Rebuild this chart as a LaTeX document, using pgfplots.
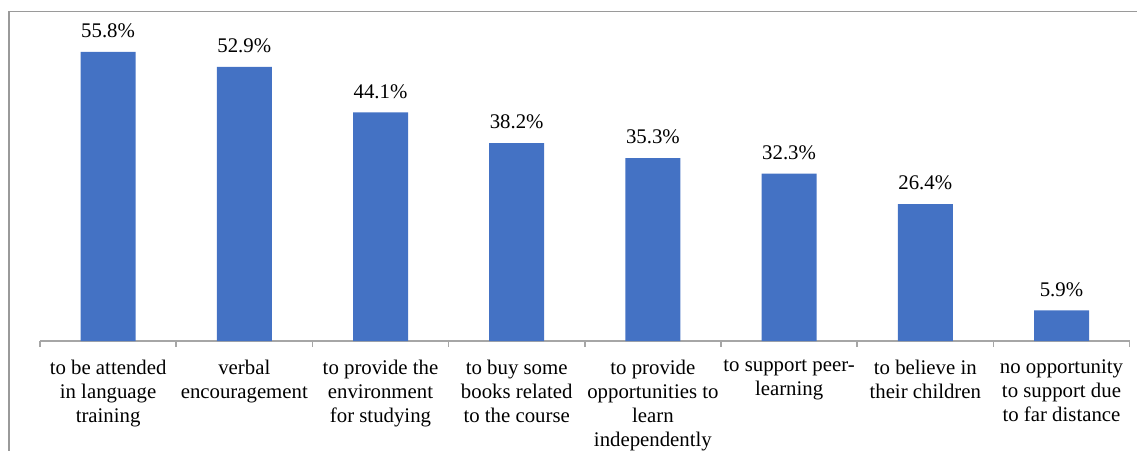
\documentclass[border=0pt]{standalone}
\usepackage{fontspec}
\setmainfont{Liberation Serif}
\usepackage{pgfplots}
\pgfplotsset{compat=1.18}
\definecolor{barblue}{HTML}{4472C4}
\definecolor{axgray}{HTML}{A6A6A6}
\definecolor{framegray}{HTML}{9A9A9A}
\begin{document}
\begin{tikzpicture}
\useasboundingbox (0,0) rectangle (568.5bp,-225.5bp);
\draw[color=framegray, line width=0.75bp] (4.5bp,-5.8bp) rectangle (700bp,-400bp);
\begin{axis}[
  at={(20bp,-170.5bp)}, anchor=south west,
  scale only axis, width=544.8bp, height=155.5bp,
  ymin=0, ymax=60, xmin=-0.5, xmax=7.5,
  axis x line*=bottom, axis y line=none,
  clip=false,
  ybar, bar width=27.5bp,
  xtick={0,...,7},
  xticklabels={
    {to be attended\\in language\\training},
    {verbal\\encouragement},
    {to provide the\\environment\\for studying},
    {to buy some\\books related\\to the course},
    {to provide\\opportunities to\\learn\\independently},
    {to support peer-\\learning},
    {to believe in\\their children},
    {no opportunity\\to support due\\to far distance}},
  major tick length=0pt,
  minor xtick={-0.5,0.5,...,7.5},
  minor tick length=3bp,
  xtick align=outside,
  x axis line style={axgray, line width=0.75bp},
  minor x tick style={axgray, line width=0.75bp},
  xticklabel style={font=\fontsize{10.4bp}{12bp}\selectfont, align=center, anchor=north, yshift=-6bp},
  nodes near coords={\pgfmathprintnumber[fixed,precision=1,fixed zerofill,assume math mode=true]{\pgfplotspointmeta}\%},
  every node near coord/.append style={font=\fontsize{10.4bp}{12bp}\selectfont, yshift=3.5bp, text=black},
]
\addplot[fill=barblue, draw=none] coordinates {
  (0,55.8) (1,52.9) (2,44.1) (3,38.2) (4,35.3) (5,32.3) (6,26.4) (7,5.9)
};
\end{axis}
\end{tikzpicture}
\end{document}
